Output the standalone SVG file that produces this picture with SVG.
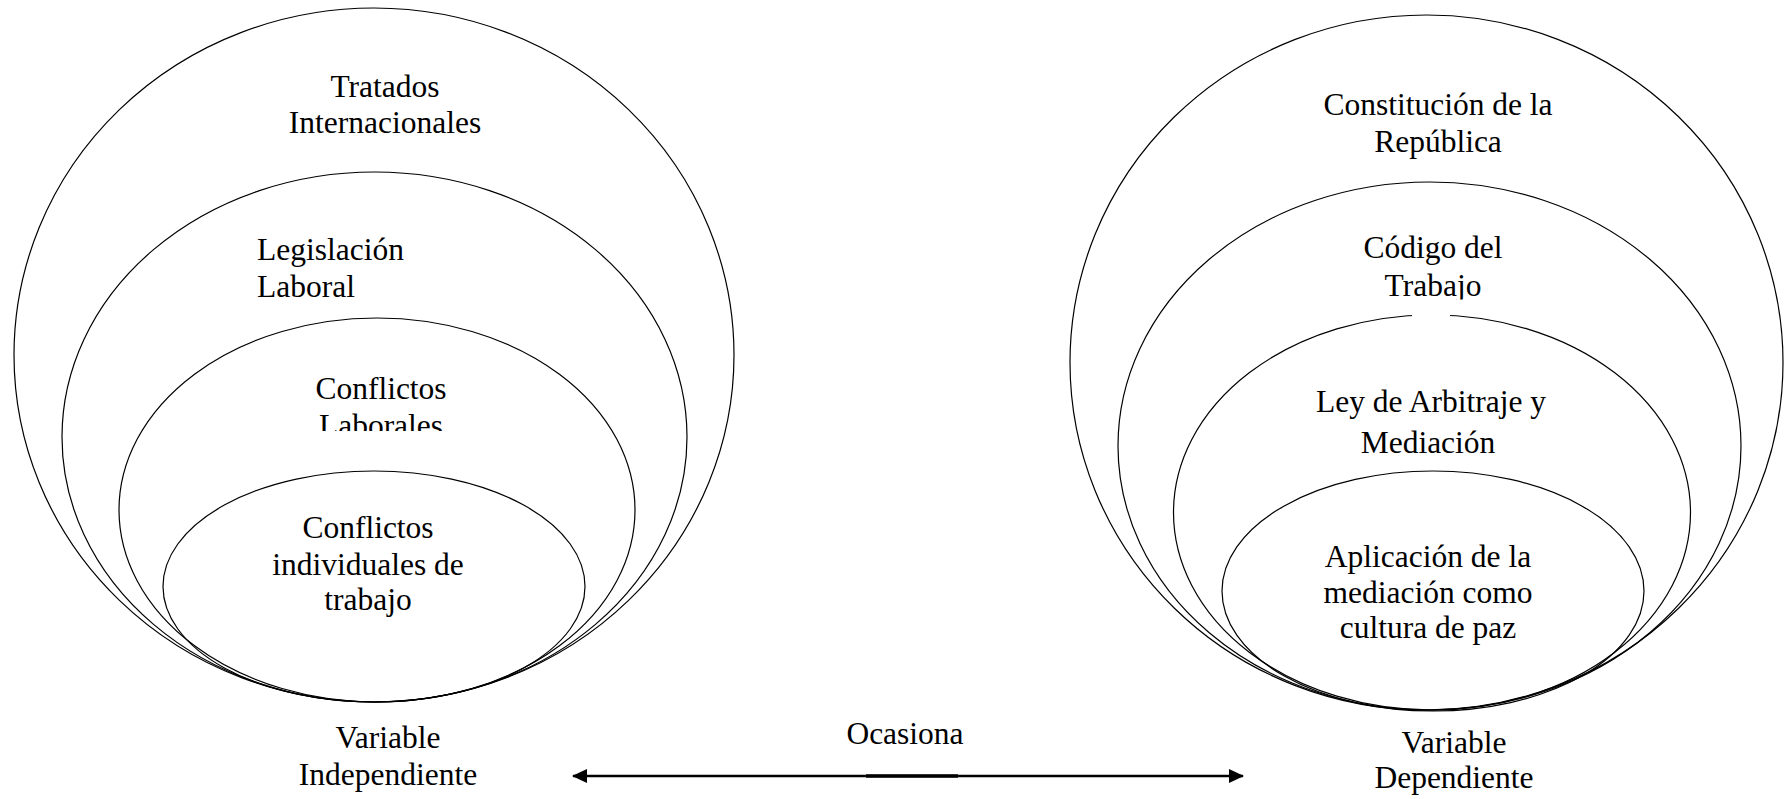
<svg xmlns="http://www.w3.org/2000/svg" width="1787" height="799" viewBox="0 0 1787 799">
<style>
.e{fill:none;stroke:#000;stroke-width:1.2}
.t{font-family:"Liberation Serif","Times New Roman",serif;font-size:31.5px;fill:#000;text-anchor:middle}
.l{text-anchor:start}
.c{stroke:#000;stroke-width:2.5;fill:none}
</style>
<defs>
<marker id="ah" viewBox="0 0 15 14" refX="14" refY="7" markerWidth="15" markerHeight="14" markerUnits="userSpaceOnUse" orient="auto-start-reverse">
<path d="M0,0 L15,7 L0,14 Z" fill="#000"/>
</marker>
<clipPath id="cLab"><rect x="0" y="0" width="900" height="431"/></clipPath>
<clipPath id="cTrab"><rect x="1000" y="0" width="787" height="299.5"/></clipPath>
<clipPath id="cMed"><rect x="1000" y="0" width="787" height="455"/></clipPath>
</defs>
<rect width="1787" height="799" fill="#fff"/>

<g id="left-tratados">
<ellipse class="e" cx="374" cy="355" rx="360" ry="347"/>
<text class="t" x="385" y="97">Tratados</text>
<text class="t" x="385" y="133">Internacionales</text>
</g>
<g id="left-legislacion">
<ellipse class="e" cx="374.5" cy="437" rx="312.5" ry="265"/>
<text class="t l" x="257" y="260">Legislación</text>
<text class="t l" x="257" y="297">Laboral</text>
</g>
<g id="left-conflictos-laborales">
<ellipse class="e" cx="377" cy="510" rx="258" ry="192"/>
<g clip-path="url(#cLab)">
<text class="t" x="381" y="399">Conflictos</text>
<text class="t" x="381" y="436">Laborales</text>
</g>
</g>
<g id="left-conflictos-individuales">
<ellipse class="e" cx="374" cy="586.5" rx="211" ry="115.5"/>
<text class="t" x="368" y="538">Conflictos</text>
<text class="t" x="368" y="575">individuales de</text>
<text class="t" x="368" y="610">trabajo</text>
</g>
<g id="left-variable">
<text class="t" x="388" y="748">Variable</text>
<text class="t" x="388" y="785">Independiente</text>
</g>

<g id="right-constitucion">
<ellipse class="e" cx="1426.5" cy="362.5" rx="356.5" ry="347.5"/>
<text class="t" x="1438" y="115">Constitución de la</text>
<text class="t" x="1438" y="152">República</text>
</g>
<g id="right-codigo">
<ellipse class="e" cx="1429.5" cy="446" rx="311.5" ry="264"/>
<g clip-path="url(#cTrab)">
<text class="t" x="1433" y="258">Código del</text>
<text class="t" x="1433" y="296">Trabajo</text>
</g>
</g>
<g id="right-ley">
<ellipse class="e" cx="1432" cy="512.5" rx="258.5" ry="197.5"/>
<rect x="1412" y="300" width="38" height="17" fill="#fff"/>
<g clip-path="url(#cMed)">
<text class="t" x="1431" y="412">Ley de Arbitraje y</text>
<text class="t" x="1428" y="453">Mediación</text>
</g>
</g>
<g id="right-aplicacion">
<ellipse class="e" cx="1433" cy="591" rx="211" ry="120"/>
<text class="t" x="1428" y="567">Aplicación de la</text>
<text class="t" x="1428" y="603">mediación como</text>
<text class="t" x="1428" y="638">cultura de paz</text>
</g>
<g id="right-variable">
<text class="t" x="1454" y="753">Variable</text>
<text class="t" x="1454" y="788">Dependiente</text>
</g>

<g id="connectors">
<line class="c" x1="573" y1="776" x2="1243" y2="776" marker-start="url(#ah)" marker-end="url(#ah)"/>
<line x1="866" y1="776" x2="958" y2="776" stroke="#000" stroke-width="3.5"/>
<text class="t" x="905" y="744">Ocasiona</text>
</g>
</svg>
